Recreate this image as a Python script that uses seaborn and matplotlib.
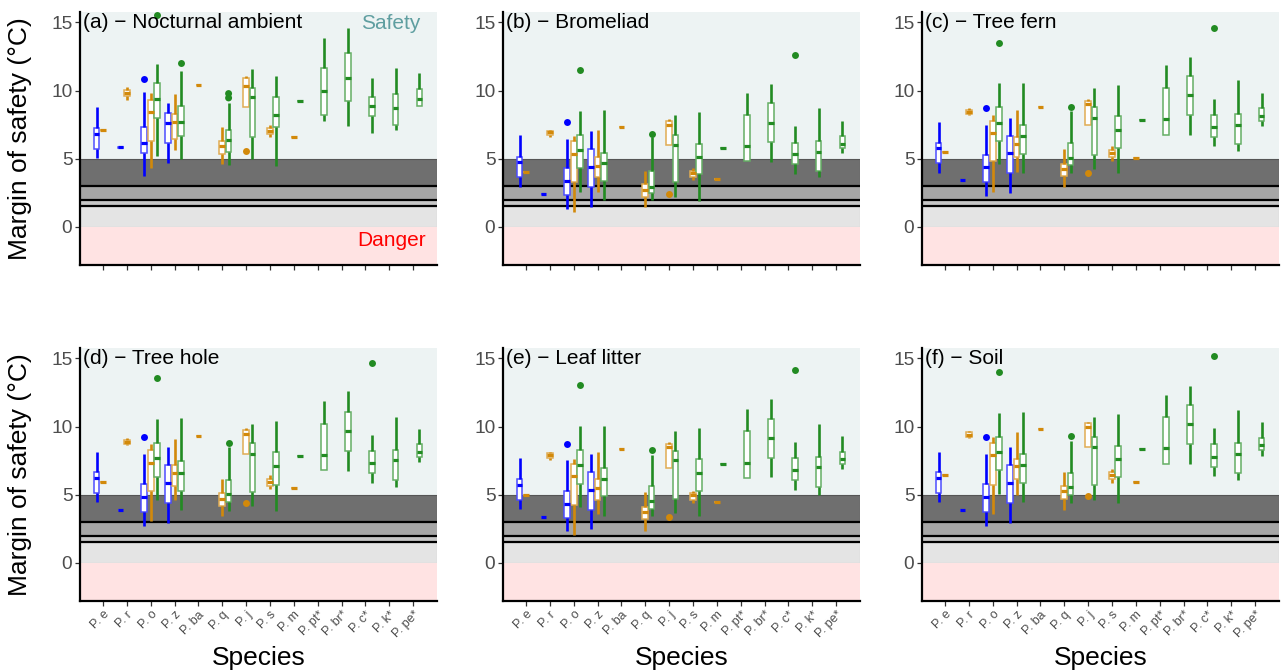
import numpy as np
import pandas as pd
import matplotlib
matplotlib.use("Agg")
import matplotlib.pyplot as plt
import seaborn as sns

plt.rcParams['font.family'] = ['Liberation Sans', 'DejaVu Sans']

# ---------------- data ----------------
SPECIES = ["P. e", "P. r", "P. o", "P. z", "P. ba", "P. q", "P. j", "P. s", "P. m",
           "P. pt*", "P. br*", "P. c*", "P. k*", "P. pe*"]
GROUPS = ["G1", "G2", "G3"]
GROUP_COLORS = ["#0000FF", "#D2890A", "#228B22"]

BOX_SPECIES = ["P. e", "P. e", "P. r", "P. r", "P. o", "P. o", "P. o", "P. z", "P. z", "P. z",
               "P. ba", "P. q", "P. q", "P. j", "P. j", "P. s", "P. s", "P. m", "P. m",
               "P. pt*", "P. br*", "P. c*", "P. k*", "P. pe*"]
BOX_GROUP = ["G1", "G2", "G1", "G2", "G1", "G2", "G3", "G1", "G2", "G3",
             "G2", "G2", "G3", "G2", "G3", "G2", "G3", "G2", "G3",
             "G3", "G3", "G3", "G3", "G3"]

PANEL_TITLES = ["(a) \u2212 Nocturnal ambient", "(b) \u2212 Bromeliad", "(c) \u2212 Tree fern",
                "(d) \u2212 Tree hole", "(e) \u2212 Leaf litter", "(f) \u2212 Soil"]

# five-number summaries (whisker low, Q1, median, Q3, whisker high); scalar = single value
STATS_A = [(5.04, 5.75, 6.8, 7.27, 8.8), 7.1, (5.8, 5.8, 5.84, 5.88, 5.88), (9.34, 9.58, 9.83, 10.07, 10.27),
           (3.76, 5.4, 6.14, 7.35, 9.9), (4.3, 6.27, 8.45, 9.34, 9.83), (5.2, 7.96, 9.41, 10.52, 11.92),
           (4.72, 6.14, 7.62, 8.33, 9.09), (5.65, 6.44, 7.71, 8.28, 9.75), (5.01, 6.68, 7.67, 8.85, 11.47),
           10.44, (4.6, 5.36, 5.9, 6.27, 7.32), (4.52, 5.53, 6.39, 7.13, 9.09),
           (8.8, 8.8, 10.37, 10.9, 11.08), (5.01, 6.58, 9.5, 10.2, 11.6),
           (6.58, 6.8, 7.0, 7.25, 7.44), (4.5, 7.32, 8.23, 9.53, 11.1), 6.61, 9.26,
           (7.74, 8.23, 9.95, 11.67, 13.83), (7.37, 9.21, 10.93, 12.78, 14.57), (6.88, 8.11, 8.85, 9.53, 10.93),
           (7.13, 7.47, 8.72, 9.78, 11.67), (8.85, 8.85, 9.39, 10.12, 11.3)]
STATS_B = [(2.95, 3.69, 4.74, 5.16, 6.76), 4.0, 2.38, (6.63, 6.76, 6.93, 7.0, 7.13),
           (1.35, 2.33, 3.37, 4.3, 6.44), (1.11, 3.32, 5.36, 6.27, 6.68), (2.58, 4.3, 5.65, 6.76, 8.48),
           (1.47, 2.95, 4.37, 5.7, 7.0), (2.58, 3.69, 4.5, 5.16, 7.13), (2.01, 3.37, 4.67, 5.45, 8.6),
           7.32, (1.43, 2.21, 2.7, 3.14, 4.13), (1.97, 2.5, 2.95, 4.1, 6.56),
           (6.02, 6.02, 7.49, 7.74, 7.91), (2.21, 3.27, 6.02, 6.76, 8.2),
           (3.44, 3.69, 3.96, 4.13, 4.35), (1.92, 3.86, 5.16, 6.09, 8.43), 3.49, 5.77,
           (4.82, 4.82, 5.95, 8.2, 9.83), (4.79, 6.22, 7.62, 9.07, 10.49), (3.88, 4.62, 5.36, 6.19, 7.42),
           (3.64, 4.13, 5.5, 6.29, 8.72), (5.4, 5.77, 6.09, 6.68, 7.74)]
STATS_C = [(3.98, 4.67, 5.77, 6.19, 7.69), 5.48, 3.42, (8.18, 8.25, 8.4, 8.55, 8.7),
           (2.29, 3.32, 4.37, 5.28, 7.49), (2.58, 4.82, 6.88, 7.74, 8.2), (4.6, 6.29, 7.62, 8.77, 10.52),
           (2.5, 3.93, 5.41, 6.68, 7.99), (4.05, 5.11, 6.09, 6.63, 8.6), (3.98, 5.36, 6.68, 7.47, 10.57),
           8.8, (2.9, 3.73, 4.23, 4.62, 5.7), (3.93, 4.55, 5.09, 6.14, 8.53),
           (7.49, 7.49, 9.02, 9.26, 9.39), (4.23, 5.28, 7.99, 8.77, 10.2),
           (4.86, 5.16, 5.41, 5.65, 5.95), (3.93, 5.8, 7.13, 8.11, 10.42), 5.04, 7.84,
           (6.76, 6.76, 7.94, 10.2, 11.84), (6.76, 8.2, 9.68, 11.08, 12.48), (5.9, 6.58, 7.32, 8.18, 9.39),
           (5.6, 6.09, 7.49, 8.3, 10.74), (7.37, 7.76, 8.16, 8.7, 9.83)]
STATS_D = [(4.44, 5.14, 6.25, 6.67, 8.17), 5.95, 3.88, (8.67, 8.74, 8.89, 9.04, 9.19),
           (2.74, 3.75, 4.84, 5.78, 7.98), (3.09, 5.26, 7.36, 8.3, 8.69), (4.59, 6.27, 7.68, 8.79, 10.52),
           (2.96, 4.4, 5.88, 7.19, 8.47), (4.59, 5.63, 6.57, 7.16, 9.09), (3.9, 5.31, 6.62, 7.48, 10.64),
           9.28, (3.41, 4.2, 4.72, 5.14, 6.17), (3.83, 4.47, 5.04, 6.1, 8.47),
           (7.98, 7.98, 9.46, 9.75, 9.88), (4.15, 5.21, 8.02, 8.77, 10.2),
           (5.43, 5.63, 5.93, 6.17, 6.42), (3.83, 5.75, 7.11, 8.1, 10.42), 5.51, 7.83,
           (6.79, 6.79, 7.9, 10.2, 11.85), (6.74, 8.2, 9.65, 11.09, 12.59), (5.88, 6.57, 7.31, 8.2, 9.38),
           (5.58, 6.07, 7.53, 8.3, 10.69), (7.41, 7.78, 8.15, 8.69, 9.83)]
STATS_E = [(3.95, 4.64, 5.75, 6.17, 7.68), 5.01, 3.38, (7.56, 7.73, 7.9, 8.07, 8.15),
           (2.32, 3.28, 4.35, 5.28, 7.53), (2.05, 4.27, 6.37, 7.28, 7.65), (4.1, 5.78, 7.16, 8.3, 10.02),
           (2.47, 3.9, 5.38, 6.69, 8.02), (3.58, 4.64, 5.51, 6.12, 8.1), (3.46, 4.89, 6.17, 6.99, 10.07),
           8.32, (2.37, 3.21, 3.7, 4.07, 5.21), (3.41, 3.98, 4.52, 5.63, 7.93),
           (6.99, 6.99, 8.47, 8.72, 8.89), (3.65, 4.72, 7.53, 8.22, 9.7),
           (4.4, 4.64, 4.96, 5.14, 5.31), (3.41, 5.26, 6.62, 7.6, 9.9), 4.47, 7.28,
           (6.25, 6.25, 7.36, 9.7, 11.31), (6.3, 7.73, 9.16, 10.57, 12.05), (5.38, 6.07, 6.79, 7.7, 8.89),
           (5.01, 5.58, 7.04, 7.8, 10.2), (6.86, 7.23, 7.6, 8.17, 9.28)]
STATS_F = [(4.44, 5.14, 6.25, 6.67, 8.17), 6.47, 3.88, (9.16, 9.26, 9.41, 9.58, 9.7),
           (2.74, 3.75, 4.84, 5.78, 7.98), (3.58, 5.75, 7.9, 8.77, 9.2), (5.06, 6.79, 8.17, 9.26, 10.99),
           (2.96, 4.4, 5.88, 7.19, 8.47), (5.01, 6.12, 7.11, 7.65, 9.58), (4.44, 5.83, 7.16, 7.98, 11.06),
           9.83, (3.85, 4.69, 5.26, 5.63, 6.69), (4.4, 4.96, 5.56, 6.62, 8.96),
           (8.47, 8.47, 9.95, 10.25, 10.37), (4.64, 5.75, 8.47, 9.26, 10.69),
           (5.88, 6.12, 6.44, 6.67, 6.86), (4.4, 6.27, 7.6, 8.59, 10.91), 5.95, 8.32,
           (7.28, 7.28, 8.42, 10.69, 12.35), (7.23, 8.69, 10.17, 11.58, 12.99), (6.37, 7.06, 7.8, 8.69, 9.88),
           (6.07, 6.57, 8.02, 8.79, 11.23), (7.85, 8.25, 8.64, 9.19, 10.32)]

OUT_A = [("P. o", "G1", 10.88), ("P. o", "G3", 15.53), ("P. z", "G3", 12.04),
         ("P. q", "G3", 9.78), ("P. q", "G3", 9.46), ("P. j", "G2", 5.58)]
OUT_B = [("P. o", "G1", 7.69), ("P. o", "G3", 11.5), ("P. q", "G3", 6.8),
         ("P. j", "G2", 2.41), ("P. c*", "G3", 12.6)]
OUT_C = [("P. o", "G1", 8.72), ("P. o", "G3", 13.51), ("P. q", "G3", 8.8),
         ("P. j", "G2", 3.93), ("P. c*", "G3", 14.62)]
OUT_D = [("P. o", "G1", 9.21), ("P. o", "G3", 13.53), ("P. q", "G3", 8.81),
         ("P. j", "G2", 4.4), ("P. c*", "G3", 14.64)]
OUT_E = [("P. o", "G1", 8.72), ("P. o", "G3", 13.04), ("P. q", "G3", 8.3),
         ("P. j", "G2", 3.38), ("P. c*", "G3", 14.15)]
OUT_F = [("P. o", "G1", 9.21), ("P. o", "G3", 14.02), ("P. q", "G3", 9.31),
         ("P. j", "G2", 4.89), ("P. c*", "G3", 15.14)]

ALL_STATS = [STATS_A, STATS_B, STATS_C, STATS_D, STATS_E, STATS_F]
ALL_OUT = [OUT_A, OUT_B, OUT_C, OUT_D, OUT_E, OUT_F]


def box_frame(stats):
    rows = []
    for sp, g, st in zip(BOX_SPECIES, BOX_GROUP, stats):
        vals = st if isinstance(st, (tuple, list)) else (st,) * 5
        for v in vals:
            rows.append((sp, g, v))
    return pd.DataFrame(rows, columns=["species", "group", "margin"])


def lighten(hexcol, f):
    rgb = np.array(matplotlib.colors.to_rgb(hexcol))
    return tuple(rgb + (1 - rgb) * f)


palette = dict(zip(GROUPS, GROUP_COLORS))

# ---------------- figure ----------------
W, H = 1282, 671
fig = plt.figure(figsize=(W / 100, H / 100), dpi=100)
lefts = [80, 503, 922]
tops = [12, 348]
pw, ph = 357, 253

GREY_TXT = "#4D4D4D"

for idx in range(6):
    r, c = divmod(idx, 3)
    ax = fig.add_axes([lefts[c] / W, 1 - (tops[r] + ph) / H, pw / W, ph / H])
    ax.set_facecolor("white")

    # background bands
    ax.axhspan(5, 30, color="#EDF3F3", lw=0, zorder=0)
    ax.axhspan(3, 5, facecolor="#6F6F6F", edgecolor="#555555", lw=0.8, zorder=0)
    ax.axhspan(2, 3, color="#A6A6A6", lw=0, zorder=0)
    ax.axhspan(1.5, 2, color="#C6C6C6", lw=0, zorder=0)
    ax.axhspan(0, 1.5, facecolor="#E4E4E4", edgecolor="#BDBDBD", lw=0.8, zorder=0)
    ax.axhspan(-10, 0, color="#FFE3E3", lw=0, zorder=0)
    for yv in (3, 2, 1.5):
        ax.axhline(yv, color="black", lw=1.6, zorder=0.5)

    df = box_frame(ALL_STATS[idx])
    for g, col in zip(GROUPS, GROUP_COLORS):
        sub = df[df["group"] == g]
        sns.boxplot(data=sub, x="species", y="margin", hue="group", order=SPECIES,
                    hue_order=GROUPS, palette=palette, dodge=True, width=0.8, gap=0.1,
                    whis=np.inf, showfliers=False, legend=False, ax=ax,
                    boxprops=dict(facecolor="white", edgecolor=lighten(col, 0.3), linewidth=1.1),
                    whiskerprops=dict(color=col, linewidth=1.9),
                    medianprops=dict(color=col, linewidth=2.3),
                    capprops=dict(visible=False))

    odf = pd.DataFrame(ALL_OUT[idx], columns=["species", "group", "margin"])
    sns.stripplot(data=odf, x="species", y="margin", hue="group", order=SPECIES,
                  hue_order=GROUPS, palette=palette, dodge=True, jitter=False, size=5,
                  linewidth=0, legend=False, ax=ax, zorder=5)

    ax.set_xlim(-0.96, 14.0)
    ax.set_ylim(-2.79, 15.76)
    ax.set_yticks([0, 5, 10, 15])
    ax.set_xlabel("")
    ax.set_ylabel("")
    for s in ("top", "right"):
        ax.spines[s].set_visible(False)
    for s in ("left", "bottom"):
        ax.spines[s].set_color("black")
        ax.spines[s].set_linewidth(1.6)
    ax.tick_params(axis="y", length=3.5, width=0.9, color="#333333", labelsize=13.8,
                   labelcolor=GREY_TXT, pad=2)
    ax.tick_params(axis="x", length=3.5, width=0.9, color="#333333", labelsize=9,
                   labelcolor=GREY_TXT, pad=2)
    if r == 0:
        ax.tick_params(axis="x", labelbottom=False)
    else:
        ax.set_xticks(range(len(SPECIES)))
        ax.set_xticklabels(SPECIES, rotation=45, ha="right", rotation_mode="anchor")

    ax.text(0.008, 0.995, PANEL_TITLES[idx], transform=ax.transAxes, ha="left", va="top",
            fontsize=15, color="black", zorder=6)
    if idx == 0:
        ax.text(0.87, 0.955, "Safety", transform=ax.transAxes, ha="center", va="center",
                fontsize=15, color="#5F9EA0", zorder=6)
        ax.text(0.872, 0.095, "Danger", transform=ax.transAxes, ha="center", va="center",
                fontsize=15, color="#FF0000", zorder=6)

# shared labels
for r in range(2):
    yc = 1 - (tops[r] + ph / 2) / H
    fig.text(20 / W, yc, "Margin of safety (\u00b0C)", rotation=90, ha="center", va="center",
             fontsize=19, color="black")
for c in range(3):
    xc = (lefts[c] + pw / 2) / W
    fig.text(xc, 1 - 658 / H, "Species", ha="center", va="center", fontsize=19, color="black")

fig.savefig("out.png", dpi=100)
